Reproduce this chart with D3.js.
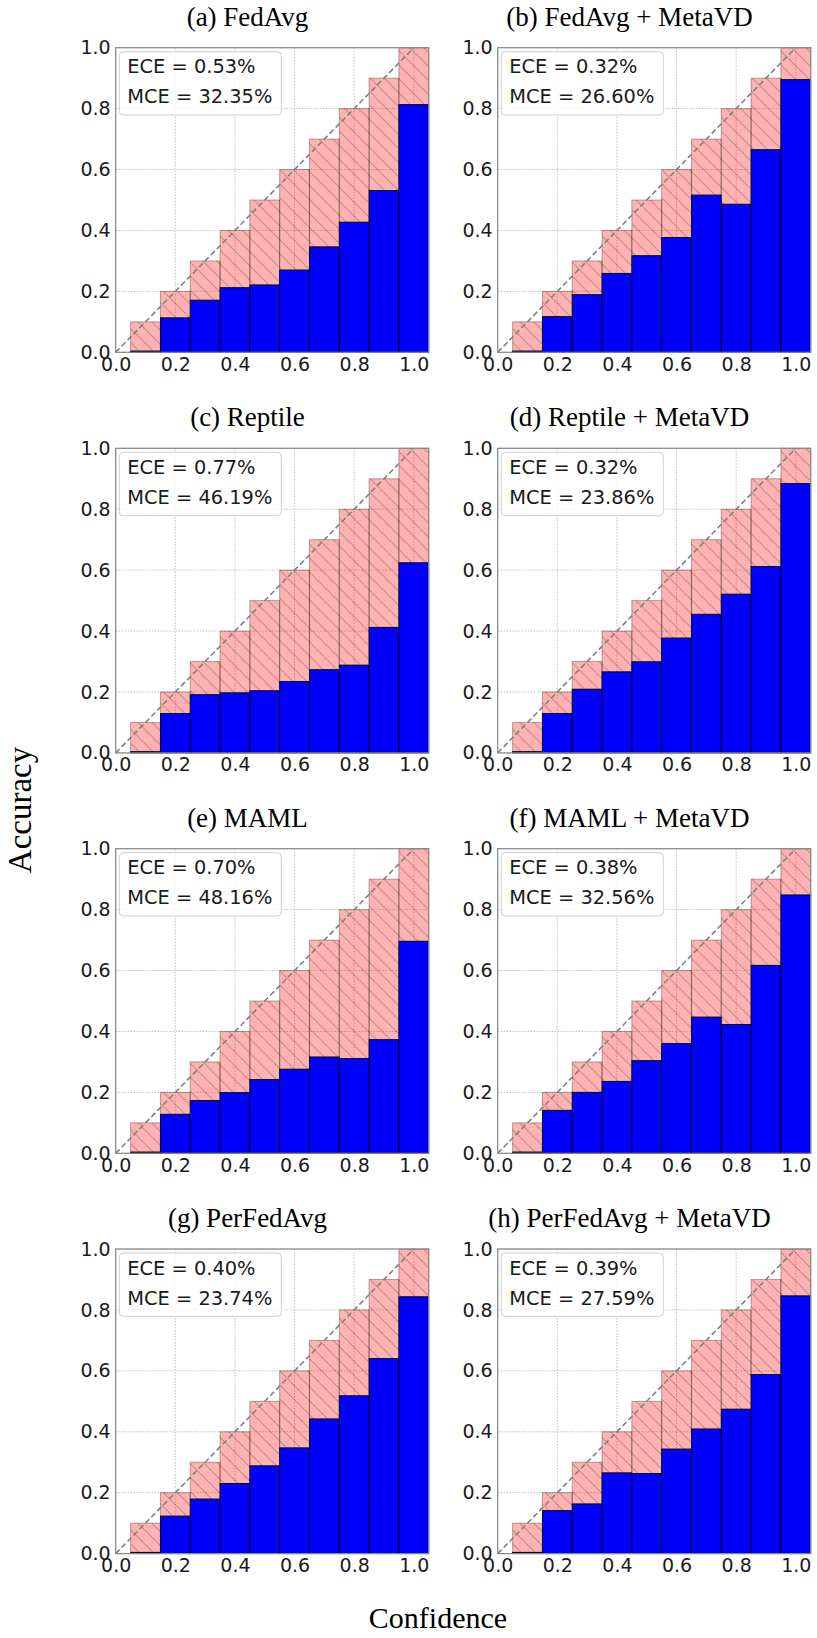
<!DOCTYPE html>
<html>
<head>
<meta charset="utf-8">
<script src="https://cdn.jsdelivr.net/npm/d3@7"></script>
<style>
  body { margin: 0; background: #fff; }
  svg { display: block; }
  .tick text { font-family: "DejaVu Sans", sans-serif; fill: #1a1a1a; }
</style>
</head>
<body>
<svg id="chart" width="817" height="1638"></svg>
<script>
// bin centres (confidence) and tick labels
const confidence = [0.1, 0.2, 0.3, 0.4, 0.5, 0.6, 0.7, 0.8, 0.9, 1.0];
const tickValues = [0.0, 0.2, 0.4, 0.6, 0.8, 1.0];

const titles = [
  '(a) FedAvg', '(b) FedAvg + MetaVD',
  '(c) Reptile', '(d) Reptile + MetaVD',
  '(e) MAML', '(f) MAML + MetaVD',
  '(g) PerFedAvg', '(h) PerFedAvg + MetaVD'
];
const eceText = ['0.53%', '0.32%', '0.77%', '0.32%', '0.70%', '0.38%', '0.40%', '0.39%'];
const mceText = ['32.35%', '26.60%', '46.19%', '23.86%', '48.16%', '32.56%', '23.74%', '27.59%'];

// accuracy per bin
const accFedAvg          = [0.004, 0.113, 0.171, 0.212, 0.221, 0.270, 0.346, 0.427, 0.531, 0.813];
const accFedAvgMetaVD    = [0.004, 0.117, 0.189, 0.259, 0.317, 0.377, 0.516, 0.486, 0.665, 0.895];
const accReptile         = [0.004, 0.129, 0.191, 0.197, 0.204, 0.234, 0.273, 0.288, 0.412, 0.624];
const accReptileMetaVD   = [0.004, 0.129, 0.209, 0.266, 0.299, 0.377, 0.455, 0.521, 0.612, 0.884];
const accMAML            = [0.004, 0.128, 0.173, 0.199, 0.242, 0.276, 0.316, 0.311, 0.373, 0.696];
const accMAMLMetaVD      = [0.004, 0.141, 0.200, 0.236, 0.304, 0.360, 0.447, 0.423, 0.617, 0.848];
const accPerFedAvg       = [0.004, 0.123, 0.179, 0.230, 0.288, 0.347, 0.442, 0.518, 0.640, 0.843];
const accPerFedAvgMetaVD = [0.004, 0.141, 0.163, 0.265, 0.263, 0.343, 0.409, 0.474, 0.588, 0.846];

const accuracies = [
  accFedAvg, accFedAvgMetaVD, accReptile, accReptileMetaVD,
  accMAML, accMAMLMetaVD, accPerFedAvg, accPerFedAvgMetaVD
];

// layout
const colLeft = [115.7, 497.7];
const rowTop = [47.7, 448.3, 848.7, 1249];
const plotW = 313;
const plotH = 304.6;

const svg = d3.select('#chart');

// hatch pattern ("\\")
const defs = svg.append('defs');
const hatch = defs.append('pattern')
  .attr('id', 'hatch')
  .attr('patternUnits', 'userSpaceOnUse')
  .attr('width', 14)
  .attr('height', 14);
hatch.append('path')
  .attr('d', 'M0,0 L14,14 M-3,11 L3,17 M11,-3 L17,3')
  .attr('stroke', 'rgba(0,0,0,0.33)')
  .attr('stroke-width', 1)
  .attr('fill', 'none');

titles.forEach((title, i) => {
  const left = colLeft[i % 2];
  const top = rowTop[Math.floor(i / 2)];
  const acc = accuracies[i];

  const x = d3.scaleLinear().domain([0, 1.05]).range([0, plotW]);
  const y = d3.scaleLinear().domain([0, 1]).range([plotH, 0]);
  const bw = x(0.1) - x(0);

  const g = svg.append('g').attr('transform', `translate(${left},${top})`);

  // grid (dotted)
  const grid = g.append('g');
  grid.selectAll('.gx').data(tickValues).enter().append('line')
    .attr('x1', d => x(d)).attr('x2', d => x(d))
    .attr('y1', 0).attr('y2', plotH)
    .attr('stroke', '#b0b0b0').attr('stroke-width', 0.8)
    .attr('stroke-dasharray', '1.5,1.5');
  grid.selectAll('.gy').data(tickValues).enter().append('line')
    .attr('x1', 0).attr('x2', plotW)
    .attr('y1', d => y(d)).attr('y2', d => y(d))
    .attr('stroke', '#b0b0b0').attr('stroke-width', 0.8)
    .attr('stroke-dasharray', '1.5,1.5');

  const bins = confidence.map((c, k) => ({ conf: c, acc: acc[k] }));

  // gap bars
  g.selectAll('.gap').data(bins).enter().append('rect')
    .attr('x', d => x(d.conf - 0.05))
    .attr('y', d => y(d.conf))
    .attr('width', bw)
    .attr('height', d => y(d.acc) - y(d.conf))
    .attr('fill', 'rgba(255,0,0,0.3)')
    .attr('stroke', 'rgba(0,0,0,0.3)')
    .attr('stroke-width', 1);
  g.selectAll('.gaphatch').data(bins).enter().append('rect')
    .attr('x', d => x(d.conf - 0.05))
    .attr('y', d => y(d.conf))
    .attr('width', bw)
    .attr('height', d => y(d.acc) - y(d.conf))
    .attr('fill', 'url(#hatch)');

  // accuracy bars
  g.selectAll('.out').data(bins).enter().append('rect')
    .attr('x', d => x(d.conf - 0.05))
    .attr('y', d => y(d.acc))
    .attr('width', bw)
    .attr('height', d => plotH - y(d.acc))
    .attr('fill', '#0000ff')
    .attr('stroke', '#000')
    .attr('stroke-width', 0.9);

  // perfect calibration
  g.append('line')
    .attr('x1', x(0)).attr('y1', y(0))
    .attr('x2', x(1)).attr('y2', y(1))
    .attr('stroke', '#808080').attr('stroke-width', 1.6)
    .attr('stroke-dasharray', '5.5,3');

  // legend box
  g.append('rect')
    .attr('x', 3.6).attr('y', 4)
    .attr('width', 162).attr('height', 63.3)
    .attr('rx', 4)
    .attr('fill', 'rgba(255,255,255,0.8)')
    .attr('stroke', '#d0d0d0').attr('stroke-width', 1);
  const lg = g.append('text')
    .attr('font-family', '"DejaVu Sans", sans-serif')
    .attr('font-size', 19.4)
    .attr('fill', '#1a1a1a');
  lg.append('tspan').attr('x', 11.6).attr('y', 25.6).text('ECE = ' + eceText[i]);
  lg.append('tspan').attr('x', 11.6).attr('y', 55.6).text('MCE = ' + mceText[i]);

  // spines
  g.append('rect')
    .attr('x', 0).attr('y', 0)
    .attr('width', plotW).attr('height', plotH)
    .attr('fill', 'none')
    .attr('stroke', '#888').attr('stroke-width', 1.2);

  // axes
  const fmt = d3.format('.1f');
  const ax = g.append('g')
    .attr('transform', `translate(0,${plotH})`)
    .call(d3.axisBottom(x).tickValues(tickValues).tickFormat(fmt).tickSize(0).tickPadding(5));
  ax.select('.domain').remove();
  ax.selectAll('text').attr('font-size', 19).attr('dy', '0.71em');

  const ay = g.append('g')
    .call(d3.axisLeft(y).tickValues(tickValues).tickFormat(fmt).tickSize(0).tickPadding(5));
  ay.select('.domain').remove();
  ay.selectAll('text').attr('font-size', 19);

  // subplot title
  svg.append('text')
    .attr('x', left + 131.8)
    .attr('y', top - 22)
    .attr('text-anchor', 'middle')
    .attr('font-family', '"Liberation Serif", "Times New Roman", serif')
    .attr('font-size', 27)
    .attr('fill', '#000')
    .text(title);
});

// shared axis labels
svg.append('text')
  .attr('transform', 'translate(31,810) rotate(-90)')
  .attr('text-anchor', 'middle')
  .attr('font-family', '"Liberation Serif", "Times New Roman", serif')
  .attr('font-size', 33)
  .text('Accuracy');

svg.append('text')
  .attr('x', 438)
  .attr('y', 1628)
  .attr('text-anchor', 'middle')
  .attr('font-family', '"Liberation Serif", "Times New Roman", serif')
  .attr('font-size', 30)
  .text('Confidence');
</script>
</body>
</html>
